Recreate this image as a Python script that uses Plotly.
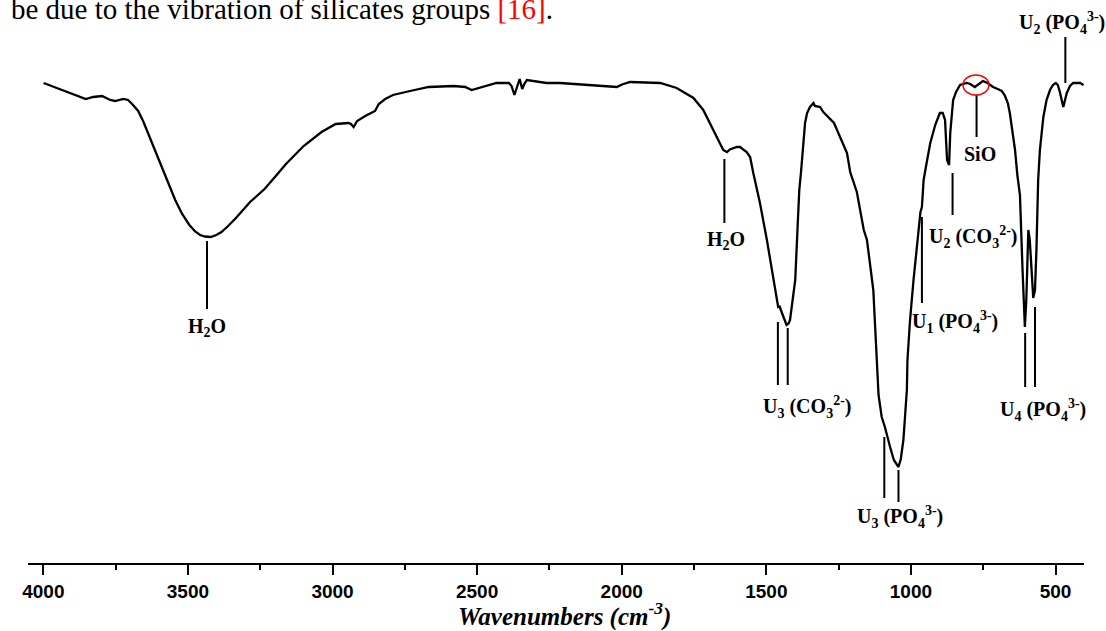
import plotly.graph_objects as go

# Wavenumber (cm^-1) and transmittance (arbitrary units)
wavenumber = [3999, 3926, 3853, 3828, 3797, 3769, 3752, 3723, 3707, 3693, 3672, 3655, 3638, 3618,
              3581, 3544, 3520, 3495, 3475, 3458, 3441, 3421, 3402, 3384, 3361, 3334, 3285, 3235,
              3199, 3161, 3100, 3038, 2989, 2945, 2936, 2927, 2915, 2887, 2853, 2840, 2818, 2791,
              2732, 2667, 2581, 2541, 2519, 2490, 2433, 2390, 2381, 2371, 2362, 2353, 2344, 2337,
              2328, 2260, 2213, 2155, 2075, 2017, 1999, 1971, 1919, 1867, 1810, 1752, 1718, 1702,
              1683, 1667, 1649, 1636, 1626, 1602, 1591, 1568, 1556, 1545, 1534, 1522, 1498, 1476,
              1459, 1454, 1448, 1442, 1430, 1423, 1418, 1406, 1400, 1392, 1386, 1380, 1366, 1359,
              1349, 1337, 1332, 1314, 1303, 1266, 1256, 1221, 1210, 1187, 1163, 1152, 1141, 1130,
              1124, 1118, 1112, 1101, 1090, 1072, 1059, 1043, 1035, 1026, 1014, 1012, 1003, 991,
              978, 967, 962, 956, 947, 933, 916, 900, 890, 882, 875, 868, 864, 854, 844, 830, 807,
              795, 779, 766, 751, 735, 716, 700, 686, 676, 670, 665, 658, 649, 640, 632, 623, 614,
              606, 601, 594, 589, 582, 577, 571, 566, 560, 554, 542, 531, 519, 509, 499, 492, 485,
              473, 461, 450, 439, 415, 403]
transmittance = [480, 472, 464, 466, 467, 463, 462, 464, 463, 459, 452, 442, 430, 417,
                 390, 363, 349, 338, 331.5, 328, 326.5, 326, 328, 331, 337, 345, 361, 374,
                 386, 399, 417, 431, 439, 440, 439, 436, 442, 447, 452, 459, 464, 468,
                 472, 476, 477, 476, 473, 475.5, 480, 480, 477, 468, 475, 484, 474, 479,
                 483, 480, 480, 479, 477.5, 476, 478.5, 481, 480.5, 480, 475, 465, 453, 444,
                 433, 423, 413, 411, 413.5, 416, 416, 411, 406, 390, 375, 360, 323, 283,
                 256, 256.5, 252.5, 247, 238, 239.5, 243, 273, 283, 335, 373, 391, 440, 450,
                 456, 460, 457, 456, 451, 440, 433, 410, 391, 371, 333, 323, 298, 273,
                 238, 198, 168, 146, 136, 116, 103, 96, 104, 123, 173, 203, 243, 283,
                 323, 351, 356, 383, 398, 420, 438, 450, 450, 443, 403, 398, 430, 463, 471, 478, 480,
                 479, 476, 479, 482, 480, 476, 474, 472, 468, 463, 460, 450, 433, 413, 388, 368, 293,
                 236, 263, 333, 323, 283, 265, 273, 313, 383, 413, 446, 463, 473, 478, 480, 478, 471,
                 456, 470, 477, 480, 480, 478]

tick_values = [4000, 3500, 3000, 2500, 2000, 1500, 1000, 500]
tick_labels = ["4000", "3500", "3000", "2500", "2000", "1500", "1000", "500"]

# Band assignments: label, marker line positions (cm^-1), line top/bottom, label position
band_labels = ["H<sub>2</sub>O", "H<sub>2</sub>O",
               "U<sub>3</sub> (CO<sub>3</sub><sup>2-</sup>)",
               "U<sub>3</sub> (PO<sub>4</sub><sup>3-</sup>)",
               "U<sub>1</sub> (PO<sub>4</sub><sup>3-</sup>)",
               "U<sub>2</sub> (CO<sub>3</sub><sup>2-</sup>)",
               "SiO",
               "U<sub>2</sub> (PO<sub>4</sub><sup>3-</sup>)",
               "U<sub>4</sub> (PO<sub>4</sub><sup>3-</sup>)"]
band_lines = [[(3434, 322, 254)], [(1645, 404, 340)],
              [(1460, 241, 178), (1426, 235, 178)],
              [(1092, 126, 65), (1043, 93, 61)],
              [(962, 346, 260)], [(856, 390, 348)], [(773, 468, 426)],
              [(466, 526, 480)],
              [(605, 230, 176), (571, 256, 176)]]
label_pos = [(3434, 236), (1640, 323), (1360, 156), (1037, 46), (849, 241),
             (785, 326), (760, 409), (476, 540), (542, 153)]

fig = go.Figure()
fig.add_trace(go.Scatter(x=wavenumber, y=transmittance, mode="lines",
                         line=dict(color="black", width=2.3), showlegend=False))

shapes = []
for lines in band_lines:
    for (w, y0, y1) in lines:
        shapes.append(dict(type="line", xref="x", yref="y", x0=w, x1=w, y0=y0, y1=y1,
                           line=dict(color="black", width=2)))
shapes.append(dict(type="circle", xref="x", yref="y", x0=820, x1=730, y0=468, y1=488,
                   line=dict(color="red", width=1.5)))

annotations = []
for txt, (w, y) in zip(band_labels, label_pos):
    annotations.append(dict(x=w, y=y, xref="x", yref="y", text="<b>" + txt + "</b>",
                            showarrow=False, xanchor="center", yanchor="middle",
                            font=dict(family="Liberation Serif, Times New Roman", size=20, color="black")))
annotations.append(dict(x=0.5085, y=-0.0915, xref="paper", yref="paper",
                        text="<b><i>Wavenumbers (cm<sup>-3</sup>)</i></b>", showarrow=False,
                        xanchor="center", yanchor="middle", borderpad=0,
                        font=dict(family="Liberation Serif, Times New Roman", size=25, color="black")))
annotations.append(dict(x=-0.0175, y=0.9840, xref="paper", yref="paper", xanchor="left", yanchor="middle",
                        text="be due to the vibration of silicates groups <span style='color:red'>[16]</span>.",
                        showarrow=False, borderpad=0,
                        font=dict(family="Liberation Serif, Times New Roman", size=29, color="black")))

fig.update_layout(
    width=1106, height=631,
    margin=dict(l=28, r=22, t=0, b=68),
    paper_bgcolor="white", plot_bgcolor="white",
    shapes=shapes, annotations=annotations,
    xaxis=dict(range=[4053, 401.5], tickvals=tick_values, ticktext=tick_labels,
               ticks="outside", ticklen=10, tickwidth=1.5, tickcolor="black",
               showline=True, linecolor="black", linewidth=1.5, showgrid=False, zeroline=False,
               tickfont=dict(family="Liberation Sans, Arial", size=19, color="black", weight="bold"),
               minor=dict(dtick=250, tick0=0, ticks="outside", ticklen=5, tickwidth=1.5, tickcolor="black",
                          showgrid=False)),
    yaxis=dict(range=[0, 563], visible=False, showgrid=False, zeroline=False),
)

fig.write_html("out.html")
